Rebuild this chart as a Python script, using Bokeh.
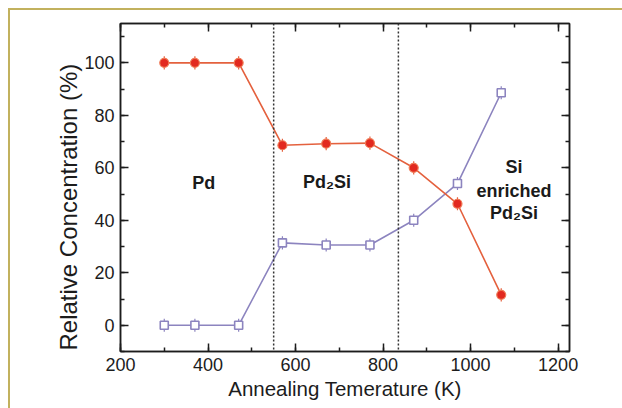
from bokeh.plotting import figure
from bokeh.models import (Range1d, LinearAxis, SingleIntervalTicker, Span, Label,
                          Whisker, ColumnDataSource, CustomJSTickFormatter, Title)
from bokeh.embed import file_html
from bokeh.resources import INLINE

# ---- data ----
temperature = [300, 370, 470, 570, 670, 770, 870, 970, 1070]
pd_conc = [100.0, 100.0, 100.0, 68.6, 69.2, 69.4, 60.0, 46.3, 11.6]
si_conc = [0.0, 0.0, 0.0, 31.4, 30.6, 30.6, 40.0, 54.0, 88.6]
pd_err = [2.5, 2.5, 2.5, 2.5, 2.5, 2.5, 2.5, 2.5, 2.5]
si_err = [2.5, 2.5, 2.5, 2.5, 2.5, 2.5, 2.5, 2.5, 2.5]
phase_boundaries = [550, 835]
region_labels = ["Pd", "Pd\u2082Si", "Si", "enriched", "Pd\u2082Si"]
region_x = [390, 672, 1099, 1099, 1099]
region_y = [54.3, 54.6, 60.5, 51.3, 42.7]

x_title = "Annealing Temerature (K)"
y_title = "Relative Concentration (%)"

FONT = "'Liberation Sans', Arial, Helvetica, sans-serif"
RED_LINE = "#e4613e"
RED_MARK = "#e2291f"
PURPLE = "#8c84bf"
GOLD = "#c2b15e"
INK = "#1c1c1c"

p = figure(width=622, height=408, output_backend="svg", toolbar_location=None,
           x_range=Range1d(200, 1226), y_range=Range1d(-10, 115),
           min_border_left=120, min_border_right=53, min_border_top=23,
           min_border_bottom=57, background_fill_color=None,
           border_fill_color=None)
p.styles = {
    "background-color": "white",
    "background-image": f"linear-gradient({GOLD}, {GOLD}), linear-gradient({GOLD}, {GOLD})",
    "background-size": "calc(100% - 8px) 2px, 2px calc(100% - 8px)",
    "background-position": "8px 8px, 8px 8px",
    "background-repeat": "no-repeat",
}
p.grid.visible = False
p.outline_line_color = INK
p.outline_line_width = 1.5

xt = SingleIntervalTicker(interval=200, num_minor_ticks=2)
yt = SingleIntervalTicker(interval=20, num_minor_ticks=2)


def style_ticks(ax):
    ax.major_tick_in = 8
    ax.major_tick_out = 0
    ax.minor_tick_in = 4
    ax.minor_tick_out = 0
    ax.axis_line_color = INK
    ax.axis_line_width = 1.5
    ax.major_tick_line_color = INK
    ax.major_tick_line_width = 1.5
    ax.minor_tick_line_color = INK
    ax.minor_tick_line_width = 1.5


for ax, tk in ((p.xaxis[0], xt), (p.yaxis[0], yt)):
    ax.ticker = tk
    style_ticks(ax)
    ax.major_label_text_font = FONT
    ax.major_label_text_font_size = "18px"
    ax.major_label_text_color = INK
    ax.major_label_standoff = 6

p.xaxis[0].axis_label = x_title
p.xaxis[0].axis_label_text_font = FONT
p.xaxis[0].axis_label_text_font_style = "normal"
p.xaxis[0].axis_label_text_color = INK
p.xaxis[0].axis_label_text_font_size = "20.5px"
p.xaxis[0].axis_label_standoff = 3

blank = CustomJSTickFormatter(code="return ''")
for loc, tk in (("above", xt), ("right", yt)):
    ax = LinearAxis(ticker=tk, formatter=blank)
    style_ticks(ax)
    ax.major_label_standoff = 0
    p.add_layout(ax, loc)

# y axis title as a side title, anchored near the bottom of the frame like the original
p.add_layout(Title(text=y_title, align="left", vertical_align="bottom", offset=1,
                   standoff=0, text_font=FONT, text_font_size="24px",
                   text_font_style="normal", text_color=INK), "left")

# phase boundaries
for xb in phase_boundaries:
    p.add_layout(Span(location=xb, dimension="height", line_color="#333333",
                      line_width=1.5, line_dash="2 2"))

src = ColumnDataSource(dict(
    t=temperature, pd=pd_conc, si=si_conc,
    pd_lo=[v - e for v, e in zip(pd_conc, pd_err)],
    pd_hi=[v + e for v, e in zip(pd_conc, pd_err)],
    si_lo=[v - e for v, e in zip(si_conc, si_err)],
    si_hi=[v + e for v, e in zip(si_conc, si_err)],
))

# Si series (open squares)
p.line("t", "si", source=src, line_color=PURPLE, line_width=1.6)
p.add_layout(Whisker(source=src, base="t", lower="si_lo", upper="si_hi",
                     line_color=PURPLE, line_width=1.2,
                     upper_head=None, lower_head=None))
p.scatter("t", "si", source=src, marker="square", size=8, fill_color="white",
          line_color=PURPLE, line_width=1.6)

# Pd series (filled circles)
p.line("t", "pd", source=src, line_color=RED_LINE, line_width=1.6)
p.add_layout(Whisker(source=src, base="t", lower="pd_lo", upper="pd_hi",
                     line_color=RED_LINE, line_width=1.2,
                     upper_head=None, lower_head=None))
p.scatter("t", "pd", source=src, marker="circle", size=9, fill_color=RED_MARK,
          line_color="#ef7a55", line_width=1.2)

# region labels
for txt, lx, ly in zip(region_labels, region_x, region_y):
    p.add_layout(Label(x=lx, y=ly, text=txt, text_font=FONT, text_font_size="18px",
                       text_font_style="bold", text_color="#1a1a1a",
                       text_align="center", text_baseline="middle"))

open("out.html", "w").write(file_html(p, INLINE))
